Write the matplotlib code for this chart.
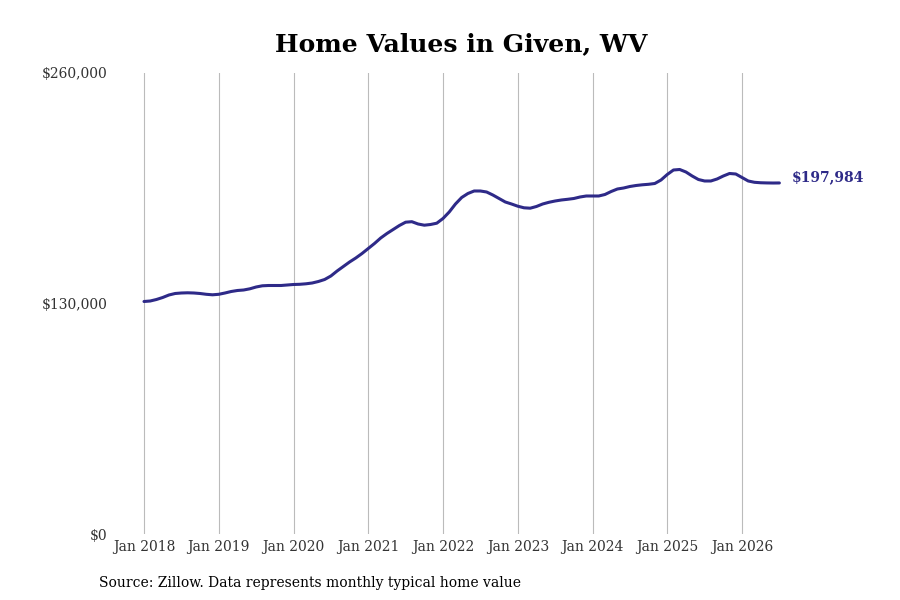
import matplotlib
matplotlib.use("Agg")
import matplotlib.pyplot as plt
from matplotlib.ticker import FuncFormatter

plt.rcParams['font.family'] = ['DejaVu Serif']

start_year = 2018
values = [
    # 2018
    131130, 131412, 132258, 133386, 134796, 135642, 135924, 136037, 135924, 135642, 135191, 134909,
    # 2019
    135191, 135924, 136770, 137334, 137616, 138293, 139308, 139985, 140154, 140154, 140154, 140436,
    # 2020
    140718, 140831, 141113, 141564, 142410, 143538, 145512, 148332, 150870, 153408, 155664, 158202,
    # 2021
    161022, 163842, 166944, 169482, 171738, 173994, 175855, 176137, 174840, 174163, 174558, 175291,
    # 2022
    177942, 181608, 186120, 189786, 192042, 193452, 193452, 192888, 191196, 189222, 187248, 186120,
    # 2023
    184879, 183977, 183751, 184710, 186120, 187079, 187812, 188376, 188771, 189222, 190068, 190632,
    # 2024
    190632, 190632, 191478, 193170, 194580, 195144, 195990, 196554, 196949, 197231, 197682, 199656,
    # 2025
    202758, 205296, 205578, 204168, 201912, 199938, 199092, 199092, 200220, 201912, 203322, 203040,
    # 2026
    201066, 199092, 198359, 198100, 198000, 197950, 197984,
]
tick_years = list(range(2018, 2027))
tick_labels = [f"Jan {y}" for y in tick_years]
y_ticks = [0, 130000, 260000]

x = [start_year + i / 12 for i in range(len(values))]
line_color = "#2e2a88"

fig = plt.figure(figsize=(9, 6), dpi=100)
ax = fig.add_axes([112 / 900, 1 - 534 / 600, (810 - 112) / 900, (534 - 73) / 600])

ax.plot(x, values, color=line_color, lw=2.2, solid_capstyle='round')
ax.set_ylim(0, 260000)
ax.set_xlim(2018 - 32 / 74.75, 2018 + (810 - 144) / 74.75)
ax.set_yticks(y_ticks)
ax.yaxis.set_major_formatter(FuncFormatter(lambda v, p: f"${v:,.0f}"))
ax.set_xticks(tick_years)
ax.set_xticklabels(tick_labels)
ax.tick_params(axis='both', length=0, labelsize=10, labelcolor='#333333')
ax.tick_params(axis='y', pad=3.5)
ax.tick_params(axis='x', pad=4)
ax.grid(axis='x', color='#bbbbbb', lw=0.8)
ax.grid(axis='y', visible=False)
for s in ax.spines.values():
    s.set_visible(False)

ax.annotate(f"${values[-1]:,}", xy=(x[-1], values[-1]), xytext=(9, 4),
            textcoords='offset points', color=line_color, fontsize=10,
            fontweight='bold', va='center', ha='left')

fig.text(461 / 900, 1 - 44 / 600, "Home Values in Given, WV", ha='center', va='center',
         fontsize=18, fontweight='bold', color='black')
fig.text(99 / 900, 1 - 582.5 / 600, "Source: Zillow. Data represents monthly typical home value",
         ha='left', va='center', fontsize=10, color='black')

fig.savefig("out.png", dpi=100)
